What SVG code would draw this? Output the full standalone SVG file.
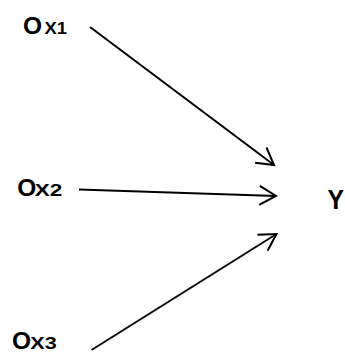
<svg xmlns="http://www.w3.org/2000/svg" width="345" height="353" viewBox="0 0 345 353">
<style>
.big{font-family:"Liberation Sans",Arial,sans-serif;font-weight:bold;font-size:24.5px;fill:#000}
.sub{font-family:"Liberation Sans",Arial,sans-serif;font-weight:bold;font-size:16px;fill:#000}
.edge{stroke:#000;stroke-width:2;fill:none}
</style>
<defs>
<marker id="arr" markerUnits="userSpaceOnUse" orient="auto" refX="0" refY="0" markerWidth="40" markerHeight="40" viewBox="-20 -20 40 40" overflow="visible">
<path d="M-16.5,-9.5 L0,0 L-16.5,9.5" fill="none" stroke="#000" stroke-width="2"/>
</marker>
</defs>
<rect width="345" height="353" fill="#fff"/>
<g id="edges">
<line class="edge" x1="90" y1="27" x2="274" y2="165" marker-end="url(#arr)"/>
<line class="edge" x1="79" y1="189.5" x2="276" y2="196" marker-end="url(#arr)"/>
<line class="edge" x1="91.5" y1="350" x2="276.5" y2="234" marker-end="url(#arr)"/>
</g>
<g id="ox1"><text class="big" x="23" y="33.5">O</text><text class="sub" x="44.5" y="33.5" textLength="22.5" lengthAdjust="spacingAndGlyphs">X1</text></g>
<g id="ox2"><text class="big" x="17.3" y="196.3">O</text><text class="sub" x="34.8" y="196.3" textLength="27.5" lengthAdjust="spacingAndGlyphs">X2</text></g>
<g id="ox3"><text class="big" x="12" y="349">O</text><text class="sub" x="30.3" y="349" textLength="26.5" lengthAdjust="spacingAndGlyphs">X3</text></g>
<g id="y"><text class="big" x="327.5" y="208.5" style="font-size:28.5px" textLength="16.5" lengthAdjust="spacingAndGlyphs">Y</text></g>
</svg>
